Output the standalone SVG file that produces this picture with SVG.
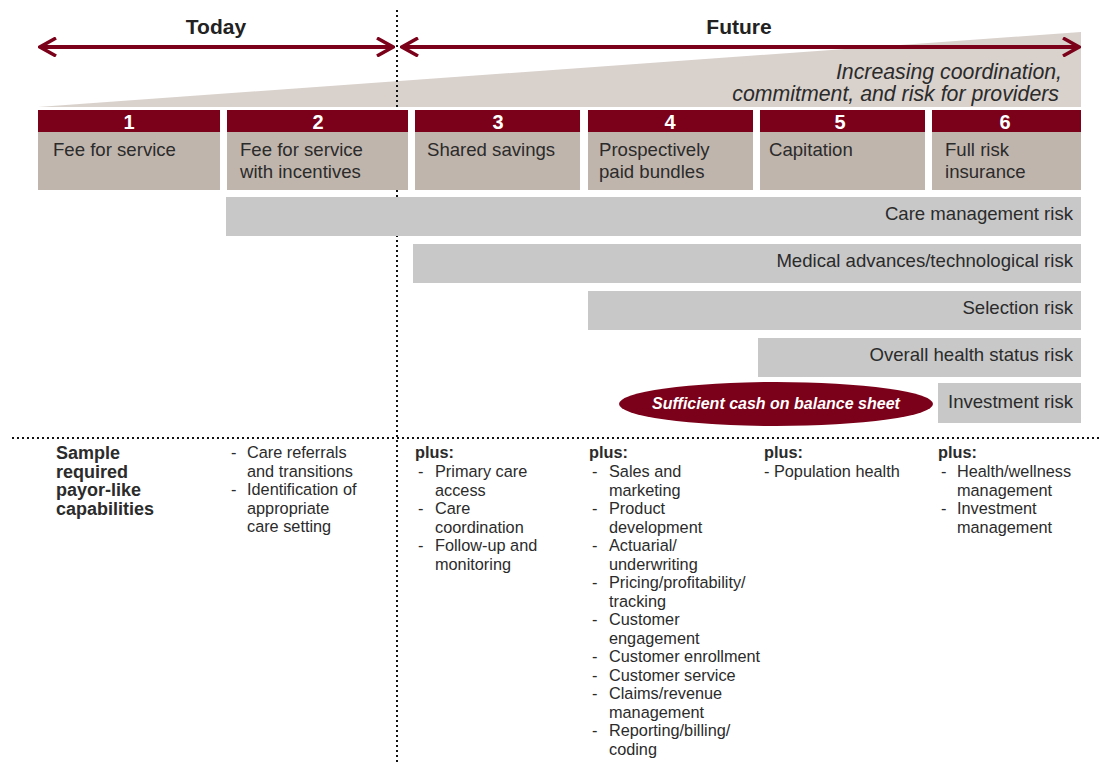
<svg xmlns="http://www.w3.org/2000/svg" width="1102" height="762" viewBox="0 0 1102 762">
<style>
.t{font-family:"Liberation Sans",Arial,sans-serif;fill:#2b2b2b}
.hd{font-family:"Liberation Sans",Arial,sans-serif;font-weight:bold;font-size:21px;fill:#222;text-anchor:middle}
.num{font-family:"Liberation Sans",Arial,sans-serif;font-weight:bold;font-size:20px;fill:#fff;text-anchor:middle}
.bx{font-size:18.6px}
.rk{font-size:18.6px;text-anchor:end}
.li{font-size:16.3px}
.b{font-weight:bold}
.hdr{fill:#7b0019}
.body{fill:#c0b5ac}
.bar{fill:#c8c8c8}
.arr{stroke:#7b0019;stroke-width:4;fill:none}
.dot{stroke:#111;stroke-width:2;stroke-dasharray:2 3;fill:none}
</style>
<defs>
<marker id="ah" viewBox="0 0 20 20" refX="18" refY="10" markerWidth="20" markerHeight="20" markerUnits="userSpaceOnUse" orient="auto-start-reverse">
<path d="M2,1 L18,10 L2,19" stroke="#7b0019" stroke-width="3.5" fill="none"/>
</marker>
</defs>
<rect width="1102" height="762" fill="#fff"/>
<g id="wedge">
<polygon points="38,107 1081,32 1081,107" fill="#d9d1cc"/>
<text class="t" x="1062" y="79" font-size="21.3" font-style="italic" text-anchor="end">Increasing coordination,</text>
<text class="t" x="1059" y="101" font-size="21.3" font-style="italic" text-anchor="end">commitment, and risk for providers</text>
</g>
<g id="titles">
<text class="hd" x="216" y="34">Today</text>
<text class="hd" x="739" y="34">Future</text>
</g>
<g id="connectors">
<path class="arr" d="M40,47 H393" marker-start="url(#ah)" marker-end="url(#ah)"/>
<path class="arr" d="M402,47 H1079" marker-start="url(#ah)" marker-end="url(#ah)"/>
<line class="dot" x1="397" y1="10" x2="397" y2="762"/>
<line class="dot" x1="12" y1="438" x2="1102" y2="438"/>
</g>
<g id="box1"><rect class="hdr" x="38" y="110" width="182" height="22"/><rect class="body" x="38" y="132" width="182" height="58"/><text class="num" x="129" y="129">1</text><text class="t bx" x="53" y="156">Fee for service</text></g>
<g id="box2"><rect class="hdr" x="227" y="110" width="181" height="22"/><rect class="body" x="227" y="132" width="181" height="58"/><text class="num" x="318" y="129">2</text><text class="t bx" x="240" y="156">Fee for service</text><text class="t bx" x="240" y="178">with incentives</text></g>
<g id="box3"><rect class="hdr" x="415" y="110" width="165" height="22"/><rect class="body" x="415" y="132" width="165" height="58"/><text class="num" x="498" y="129">3</text><text class="t bx" x="427" y="156">Shared savings</text></g>
<g id="box4"><rect class="hdr" x="588" y="110" width="165" height="22"/><rect class="body" x="588" y="132" width="165" height="58"/><text class="num" x="670" y="129">4</text><text class="t bx" x="599" y="156">Prospectively</text><text class="t bx" x="599" y="178">paid bundles</text></g>
<g id="box5"><rect class="hdr" x="760" y="110" width="165" height="22"/><rect class="body" x="760" y="132" width="165" height="58"/><text class="num" x="840" y="129">5</text><text class="t bx" x="769" y="156">Capitation</text></g>
<g id="box6"><rect class="hdr" x="932" y="110" width="149" height="22"/><rect class="body" x="932" y="132" width="149" height="58"/><text class="num" x="1005" y="129">6</text><text class="t bx" x="945" y="156">Full risk</text><text class="t bx" x="945" y="178">insurance</text></g>
<g id="risk-care"><rect class="bar" x="226" y="197" width="855" height="39"/><text class="t rk" x="1073" y="220">Care management risk</text></g>
<g id="risk-medical"><rect class="bar" x="413" y="244" width="668" height="39"/><text class="t rk" x="1073" y="267">Medical advances/technological risk</text></g>
<g id="risk-selection"><rect class="bar" x="588" y="291" width="493" height="39"/><text class="t rk" x="1073" y="314">Selection risk</text></g>
<g id="risk-health"><rect class="bar" x="758" y="338" width="323" height="39"/><text class="t rk" x="1073" y="361">Overall health status risk</text></g>
<g id="risk-investment"><rect class="bar" x="938" y="383" width="143" height="40"/><text class="t rk" x="1073" y="408">Investment risk</text></g>
<g id="cash"><ellipse cx="776" cy="404" rx="157" ry="22" fill="#7b0019"/><text x="776" y="409" font-family="Liberation Sans,Arial,sans-serif" font-size="16" font-weight="bold" font-style="italic" fill="#fff" text-anchor="middle">Sufficient cash on balance sheet</text></g>
<g id="cap-label" class="t b" font-size="18">
<text x="56" y="459">Sample</text><text x="56" y="477.5">required</text><text x="56" y="496">payor-like</text><text x="56" y="514.5">capabilities</text>
</g>
<g id="cap2" class="t li">
<text x="231" y="458">-</text><text x="247" y="458">Care referrals</text>
<text x="247" y="476.5">and transitions</text>
<text x="231" y="495">-</text><text x="247" y="495">Identification of</text>
<text x="247" y="513.5">appropriate</text>
<text x="247" y="532">care setting</text>
</g>
<g id="cap3" class="t li">
<text class="b" x="415" y="458">plus:</text>
<text x="418" y="477">-</text><text x="435" y="477">Primary care</text>
<text x="435" y="495.5">access</text>
<text x="418" y="514">-</text><text x="435" y="514">Care</text>
<text x="435" y="532.5">coordination</text>
<text x="418" y="551">-</text><text x="435" y="551">Follow-up and</text>
<text x="435" y="569.5">monitoring</text>
</g>
<g id="cap4" class="t li">
<text class="b" x="589" y="458">plus:</text>
<text x="592" y="477">-</text><text x="609" y="477">Sales and</text>
<text x="609" y="495.5">marketing</text>
<text x="592" y="514">-</text><text x="609" y="514">Product</text>
<text x="609" y="532.5">development</text>
<text x="592" y="551">-</text><text x="609" y="551">Actuarial/</text>
<text x="609" y="569.5">underwriting</text>
<text x="592" y="588">-</text><text x="609" y="588">Pricing/profitability/</text>
<text x="609" y="606.5">tracking</text>
<text x="592" y="625">-</text><text x="609" y="625">Customer</text>
<text x="609" y="643.5">engagement</text>
<text x="592" y="662">-</text><text x="609" y="662">Customer enrollment</text>
<text x="592" y="680.5">-</text><text x="609" y="680.5">Customer service</text>
<text x="592" y="699">-</text><text x="609" y="699">Claims/revenue</text>
<text x="609" y="717.5">management</text>
<text x="592" y="736">-</text><text x="609" y="736">Reporting/billing/</text>
<text x="609" y="754.5">coding</text>
</g>
<g id="cap5" class="t li">
<text class="b" x="764" y="458">plus:</text>
<text x="764" y="477">- Population health</text>
</g>
<g id="cap6" class="t li">
<text class="b" x="938" y="458">plus:</text>
<text x="941" y="477">-</text><text x="957" y="477">Health/wellness</text>
<text x="957" y="495.5">management</text>
<text x="941" y="514">-</text><text x="957" y="514">Investment</text>
<text x="957" y="532.5">management</text>
</g>
</svg>
